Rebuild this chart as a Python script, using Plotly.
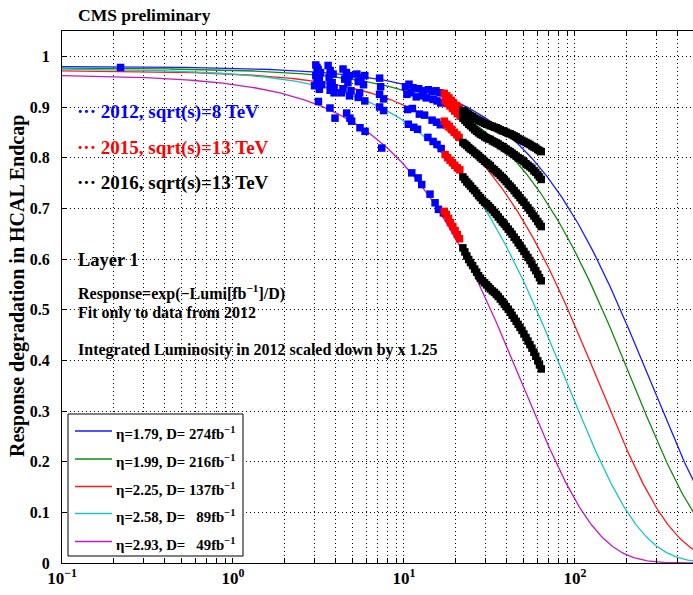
import numpy as np
import plotly.graph_objects as go

# ---- fit parameters per eta ring: Response = A * exp(-Lumi / D) ----
eta_labels = ["1.79", "1.99", "2.25", "2.58", "2.93"]
D_values = [274, 216, 137, 89, 49]
norm_values = [0.980, 0.977, 0.972, 0.976, 0.964]
curve_colors = ["#1a1aff", "#108a10", "#ff1a1a", "#1ac4c4", "#c41ac4"]

# ---- 2012 data, sqrt(s)=8 TeV (luminosity scaled down by 1.25) ----
lumi_2012_179 = [0.22, 3.05, 3.1, 3.15, 3.25, 3.6, 3.7, 3.85, 4.4, 4.6, 4.8, 5.3, 5.6, 5.9, 7.2,
                 10.2, 10.7, 11.3, 12.2, 13.0, 13.9, 14.6, 15.4, 16.2]
resp_2012_179 = [0.978, 0.983, 0.978, 0.974, 0.968, 0.982, 0.972, 0.965, 0.975, 0.968, 0.962,
                 0.965, 0.958, 0.962, 0.957, 0.940, 0.945, 0.938, 0.936, 0.932, 0.934, 0.930,
                 0.932, 0.928]
lumi_2012_199 = [3.05, 3.2, 3.65, 3.8, 4.5, 4.7, 5.4, 5.8, 7.3, 10.4, 11.0, 11.8, 12.8, 13.5,
                 14.8, 15.6, 16.4]
resp_2012_199 = [0.962, 0.955, 0.958, 0.948, 0.955, 0.948, 0.950, 0.944, 0.940, 0.925, 0.928,
                 0.920, 0.922, 0.918, 0.915, 0.912, 0.908]
lumi_2012_225 = [3.1, 3.3, 3.7, 3.9, 4.4, 4.9, 5.5, 7.2, 7.6, 10.5, 11.2, 12.3, 13.2, 14.6,
                 15.5, 16.3]
resp_2012_225 = [0.950, 0.944, 0.945, 0.938, 0.936, 0.932, 0.928, 0.925, 0.916, 0.895, 0.897,
                 0.886, 0.884, 0.874, 0.870, 0.865]
lumi_2012_258 = [3.0, 3.2, 3.7, 3.9, 4.3, 4.8, 5.4, 5.9, 7.2, 7.6, 10.6, 11.4, 12.0, 13.8,
                 14.8, 15.6, 16.5]
resp_2012_258 = [0.942, 0.935, 0.933, 0.928, 0.928, 0.922, 0.919, 0.912, 0.900, 0.893, 0.866,
                 0.860, 0.856, 0.840, 0.832, 0.826, 0.818]
lumi_2012_293 = [3.16, 3.69, 3.95, 4.62, 4.83, 4.94, 5.53, 5.92, 7.41, 11.1, 12.1, 12.7, 14.2,
                 15.2, 15.9, 17.0]
resp_2012_293 = [0.911, 0.898, 0.878, 0.888, 0.878, 0.872, 0.859, 0.852, 0.819, 0.770, 0.760,
                 0.747, 0.728, 0.711, 0.698, 0.691]

# ---- 2015 data, sqrt(s)=13 TeV ----
lumi_2015_179 = [17.2, 17.8, 18.3, 18.9, 19.5, 20.2, 21.0]
resp_2015_179 = [0.927, 0.922, 0.918, 0.913, 0.908, 0.903, 0.899]
lumi_2015_199 = [17.4, 18.0, 18.6, 19.2, 19.8, 20.5, 21.3]
resp_2015_199 = [0.912, 0.907, 0.902, 0.897, 0.892, 0.887, 0.882]
lumi_2015_225 = [17.2, 17.8, 18.4, 19.0, 19.7, 20.4, 21.0]
resp_2015_225 = [0.872, 0.866, 0.862, 0.856, 0.850, 0.845, 0.840]
lumi_2015_258 = [17.4, 18.0, 18.6, 19.2, 19.8, 20.5, 21.2]
resp_2015_258 = [0.806, 0.800, 0.795, 0.790, 0.785, 0.780, 0.776]
lumi_2015_293 = [17.2, 17.7, 18.2, 18.7, 19.3, 19.9, 20.5, 21.1]
resp_2015_293 = [0.694, 0.688, 0.680, 0.672, 0.664, 0.656, 0.648, 0.640]

# ---- 2016 data, sqrt(s)=13 TeV (same luminosity points for all rings) ----
lumi_2016 = [22.1, 22.7, 23.3, 23.9, 24.5, 25.2, 25.9, 26.6, 27.3, 28.0, 28.8, 29.6, 30.4,
             31.2, 32.0, 32.9, 33.8, 34.7, 35.6, 36.6, 37.6, 38.6, 39.6, 40.7, 41.8, 42.9,
             44.1, 45.3, 46.5, 47.7, 49.0, 50.3, 51.7, 53.1, 54.5, 56.0, 57.5, 59.0, 60.6,
             62.0, 63.5]
resp_2016_179 = [0.893, 0.891, 0.888, 0.886, 0.883, 0.881, 0.878, 0.876, 0.874, 0.872, 0.870,
                 0.868, 0.866, 0.865, 0.863, 0.862, 0.860, 0.859, 0.857, 0.855, 0.853, 0.852,
                 0.850, 0.848, 0.847, 0.845, 0.843, 0.841, 0.838, 0.836, 0.834, 0.832, 0.830,
                 0.828, 0.826, 0.823, 0.821, 0.819, 0.816, 0.814, 0.812]
resp_2016_199 = [0.878, 0.874, 0.870, 0.866, 0.863, 0.859, 0.855, 0.852, 0.849, 0.846, 0.844,
                 0.841, 0.839, 0.837, 0.836, 0.833, 0.831, 0.829, 0.827, 0.824, 0.822, 0.819,
                 0.817, 0.814, 0.812, 0.809, 0.806, 0.803, 0.800, 0.798, 0.795, 0.792, 0.788,
                 0.785, 0.782, 0.779, 0.774, 0.771, 0.766, 0.762, 0.757]
resp_2016_225 = [0.830, 0.827, 0.824, 0.820, 0.817, 0.814, 0.810, 0.807, 0.804, 0.800, 0.797,
                 0.793, 0.790, 0.787, 0.784, 0.779, 0.776, 0.772, 0.769, 0.765, 0.761, 0.757,
                 0.753, 0.748, 0.744, 0.740, 0.735, 0.730, 0.726, 0.721, 0.716, 0.712, 0.706,
                 0.701, 0.696, 0.690, 0.685, 0.680, 0.674, 0.669, 0.664]
resp_2016_258 = [0.762, 0.757, 0.752, 0.748, 0.744, 0.739, 0.735, 0.730, 0.725, 0.721, 0.716,
                 0.712, 0.709, 0.705, 0.701, 0.697, 0.692, 0.688, 0.683, 0.678, 0.673, 0.669,
                 0.664, 0.659, 0.654, 0.649, 0.643, 0.638, 0.632, 0.627, 0.621, 0.615, 0.609,
                 0.603, 0.597, 0.590, 0.583, 0.577, 0.570, 0.563, 0.557]
resp_2016_293 = [0.622, 0.614, 0.606, 0.599, 0.593, 0.587, 0.580, 0.574, 0.567, 0.562, 0.557,
                 0.553, 0.549, 0.545, 0.541, 0.537, 0.534, 0.530, 0.526, 0.521, 0.516, 0.511,
                 0.506, 0.501, 0.495, 0.489, 0.483, 0.477, 0.471, 0.465, 0.459, 0.452, 0.445,
                 0.438, 0.431, 0.424, 0.416, 0.408, 0.399, 0.391, 0.383]

data_2012 = [(lumi_2012_179, resp_2012_179), (lumi_2012_199, resp_2012_199),
             (lumi_2012_225, resp_2012_225), (lumi_2012_258, resp_2012_258),
             (lumi_2012_293, resp_2012_293)]
data_2015 = [(lumi_2015_179, resp_2015_179), (lumi_2015_199, resp_2015_199),
             (lumi_2015_225, resp_2015_225), (lumi_2015_258, resp_2015_258),
             (lumi_2015_293, resp_2015_293)]
data_2016 = [(lumi_2016, r) for r in (resp_2016_179, resp_2016_199, resp_2016_225,
                                      resp_2016_258, resp_2016_293)]

x_decades = [0.1, 1, 10, 100]
x_tick_labels = ["10<sup>−1</sup>", "10<sup>0</sup>", "10<sup>1</sup>", "10<sup>2</sup>"]
y_ticks = [0.0, 0.1, 0.2, 0.3, 0.4, 0.5, 0.6, 0.7, 0.8, 0.9, 1.0]
y_tick_labels = ["0", "0.1", "0.2", "0.3", "0.4", "0.5", "0.6", "0.7", "0.8", "0.9", "1"]

SERIF = "Liberation Serif"
W, H = 693, 595
L_PX, R_PX, T_PX, B_PX = 62, 693, 31, 563


def paper_x(px):
    return (px - L_PX) / (R_PX - L_PX)


def paper_y(py):
    return (B_PX - py) / (B_PX - T_PX)


fig = go.Figure()

# fitted curves
lumi_grid = np.logspace(-1, np.log10(500), 500)
for A, D, col in zip(norm_values, D_values, curve_colors):
    fig.add_trace(go.Scatter(x=lumi_grid, y=A * np.exp(-lumi_grid / D), mode="lines",
                             line=dict(color=col, width=1.3), showlegend=False,
                             hoverinfo="skip"))

# measured points, one trace per data-taking year
for dataset, col in ((data_2012, "#0000ff"), (data_2015, "#ff0000"), (data_2016, "#000000")):
    xs = [v for lx, _ in dataset for v in lx]
    ys = [v for _, ry in dataset for v in ry]
    fig.add_trace(go.Scatter(x=xs, y=ys, mode="markers",
                             marker=dict(symbol="square", size=7.5, color=col,
                                         line=dict(width=0)),
                             showlegend=False))

# minor positions 2..9 within each decade
x_minor = [m * dec for dec in x_decades for m in range(2, 10) if m * dec <= 500]

grid_dash = "1px,3px"
grid_col = "#000000"
fig.update_xaxes(type="log", range=[-1, np.log10(490)], tickmode="array",
                 tickvals=x_decades, ticktext=["<b>%s</b>" % t for t in x_tick_labels],
                 showgrid=True, gridcolor=grid_col, gridwidth=1, griddash=grid_dash,
                 minor=dict(tickmode="array", tickvals=x_minor, ticks="inside", ticklen=5,
                            tickcolor="black", showgrid=True, gridcolor=grid_col,
                            gridwidth=1, griddash=grid_dash),
                 showline=True, linecolor="black", linewidth=1, mirror="ticks",
                 ticks="inside", ticklen=5, tickcolor="black",
                 tickfont=dict(family=SERIF, size=17, color="black"), zeroline=False)
fig.update_yaxes(range=[0, 1.05], tickmode="array", tickvals=y_ticks,
                 ticktext=["<b>%s</b>" % t for t in y_tick_labels],
                 showgrid=True, gridcolor=grid_col, gridwidth=1, griddash=grid_dash,
                 showline=True, linecolor="black", linewidth=1,
                 ticks="inside", ticklen=5, tickcolor="black", ticklabelstandoff=8,
                 tickfont=dict(family=SERIF, size=16, color="black"), zeroline=False)

ann = []


def text(px, py, s, size, color="black", anchor="left", angle=0):
    ann.append(dict(x=paper_x(px), y=paper_y(py), xref="paper", yref="paper", text=s,
                    showarrow=False, xanchor=anchor, yanchor="middle", textangle=angle,
                    font=dict(family=SERIF, size=size, color=color)))


text(76, 15, "<b>CMS preliminary</b>", 17.5)
text(17, 286, "<b>Response degradation in HCAL Endcap</b>", 20, anchor="center", angle=-90)
text(75, 112, "<b>··· 2012, sqrt(s)=8 TeV</b>", 19, color="#0000ff")
text(75, 148, "<b>··· 2015, sqrt(s)=13 TeV</b>", 19, color="#ff0000")
text(75, 183, "<b>··· 2016, sqrt(s)=13 TeV</b>", 19, color="black")
text(76, 260, "<b>Layer 1</b>", 18.5)
text(76, 292, "<b>Response=exp(−Lumi[fb<sup>−1</sup>]/D)</b>", 16)
text(76, 313, "<b>Fit only to data from 2012</b>", 16)
text(76, 350, "<b>Integrated Luminosity in 2012 scaled down by x 1.25</b>", 16)

# fit legend box
shapes = [dict(type="rect", xref="paper", yref="paper", x0=paper_x(68), x1=paper_x(243),
               y0=paper_y(556), y1=paper_y(414), line=dict(color="black", width=1),
               fillcolor="white", layer="above")]
row_y = [431, 459, 486.5, 513.5, 541.5]
for i, (eta, D, col) in enumerate(zip(eta_labels, D_values, curve_colors)):
    y = row_y[i]
    shapes.append(dict(type="line", xref="paper", yref="paper", x0=paper_x(75),
                       x1=paper_x(112), y0=paper_y(y), y1=paper_y(y),
                       line=dict(color=col, width=1.5), layer="above"))
    dtxt = ("%d" % D).rjust(3).replace(" ", "&nbsp;&nbsp;")
    text(114, y + 2, "<b>η=%s, D=&nbsp;%sfb<sup>−1</sup></b>" % (eta, dtxt), 14.8)

fig.update_layout(width=W, height=H, margin=dict(l=L_PX, r=W - R_PX, t=T_PX, b=H - B_PX),
                  paper_bgcolor="white", plot_bgcolor="white", showlegend=False,
                  annotations=ann, shapes=shapes)

fig.write_html("out.html")
